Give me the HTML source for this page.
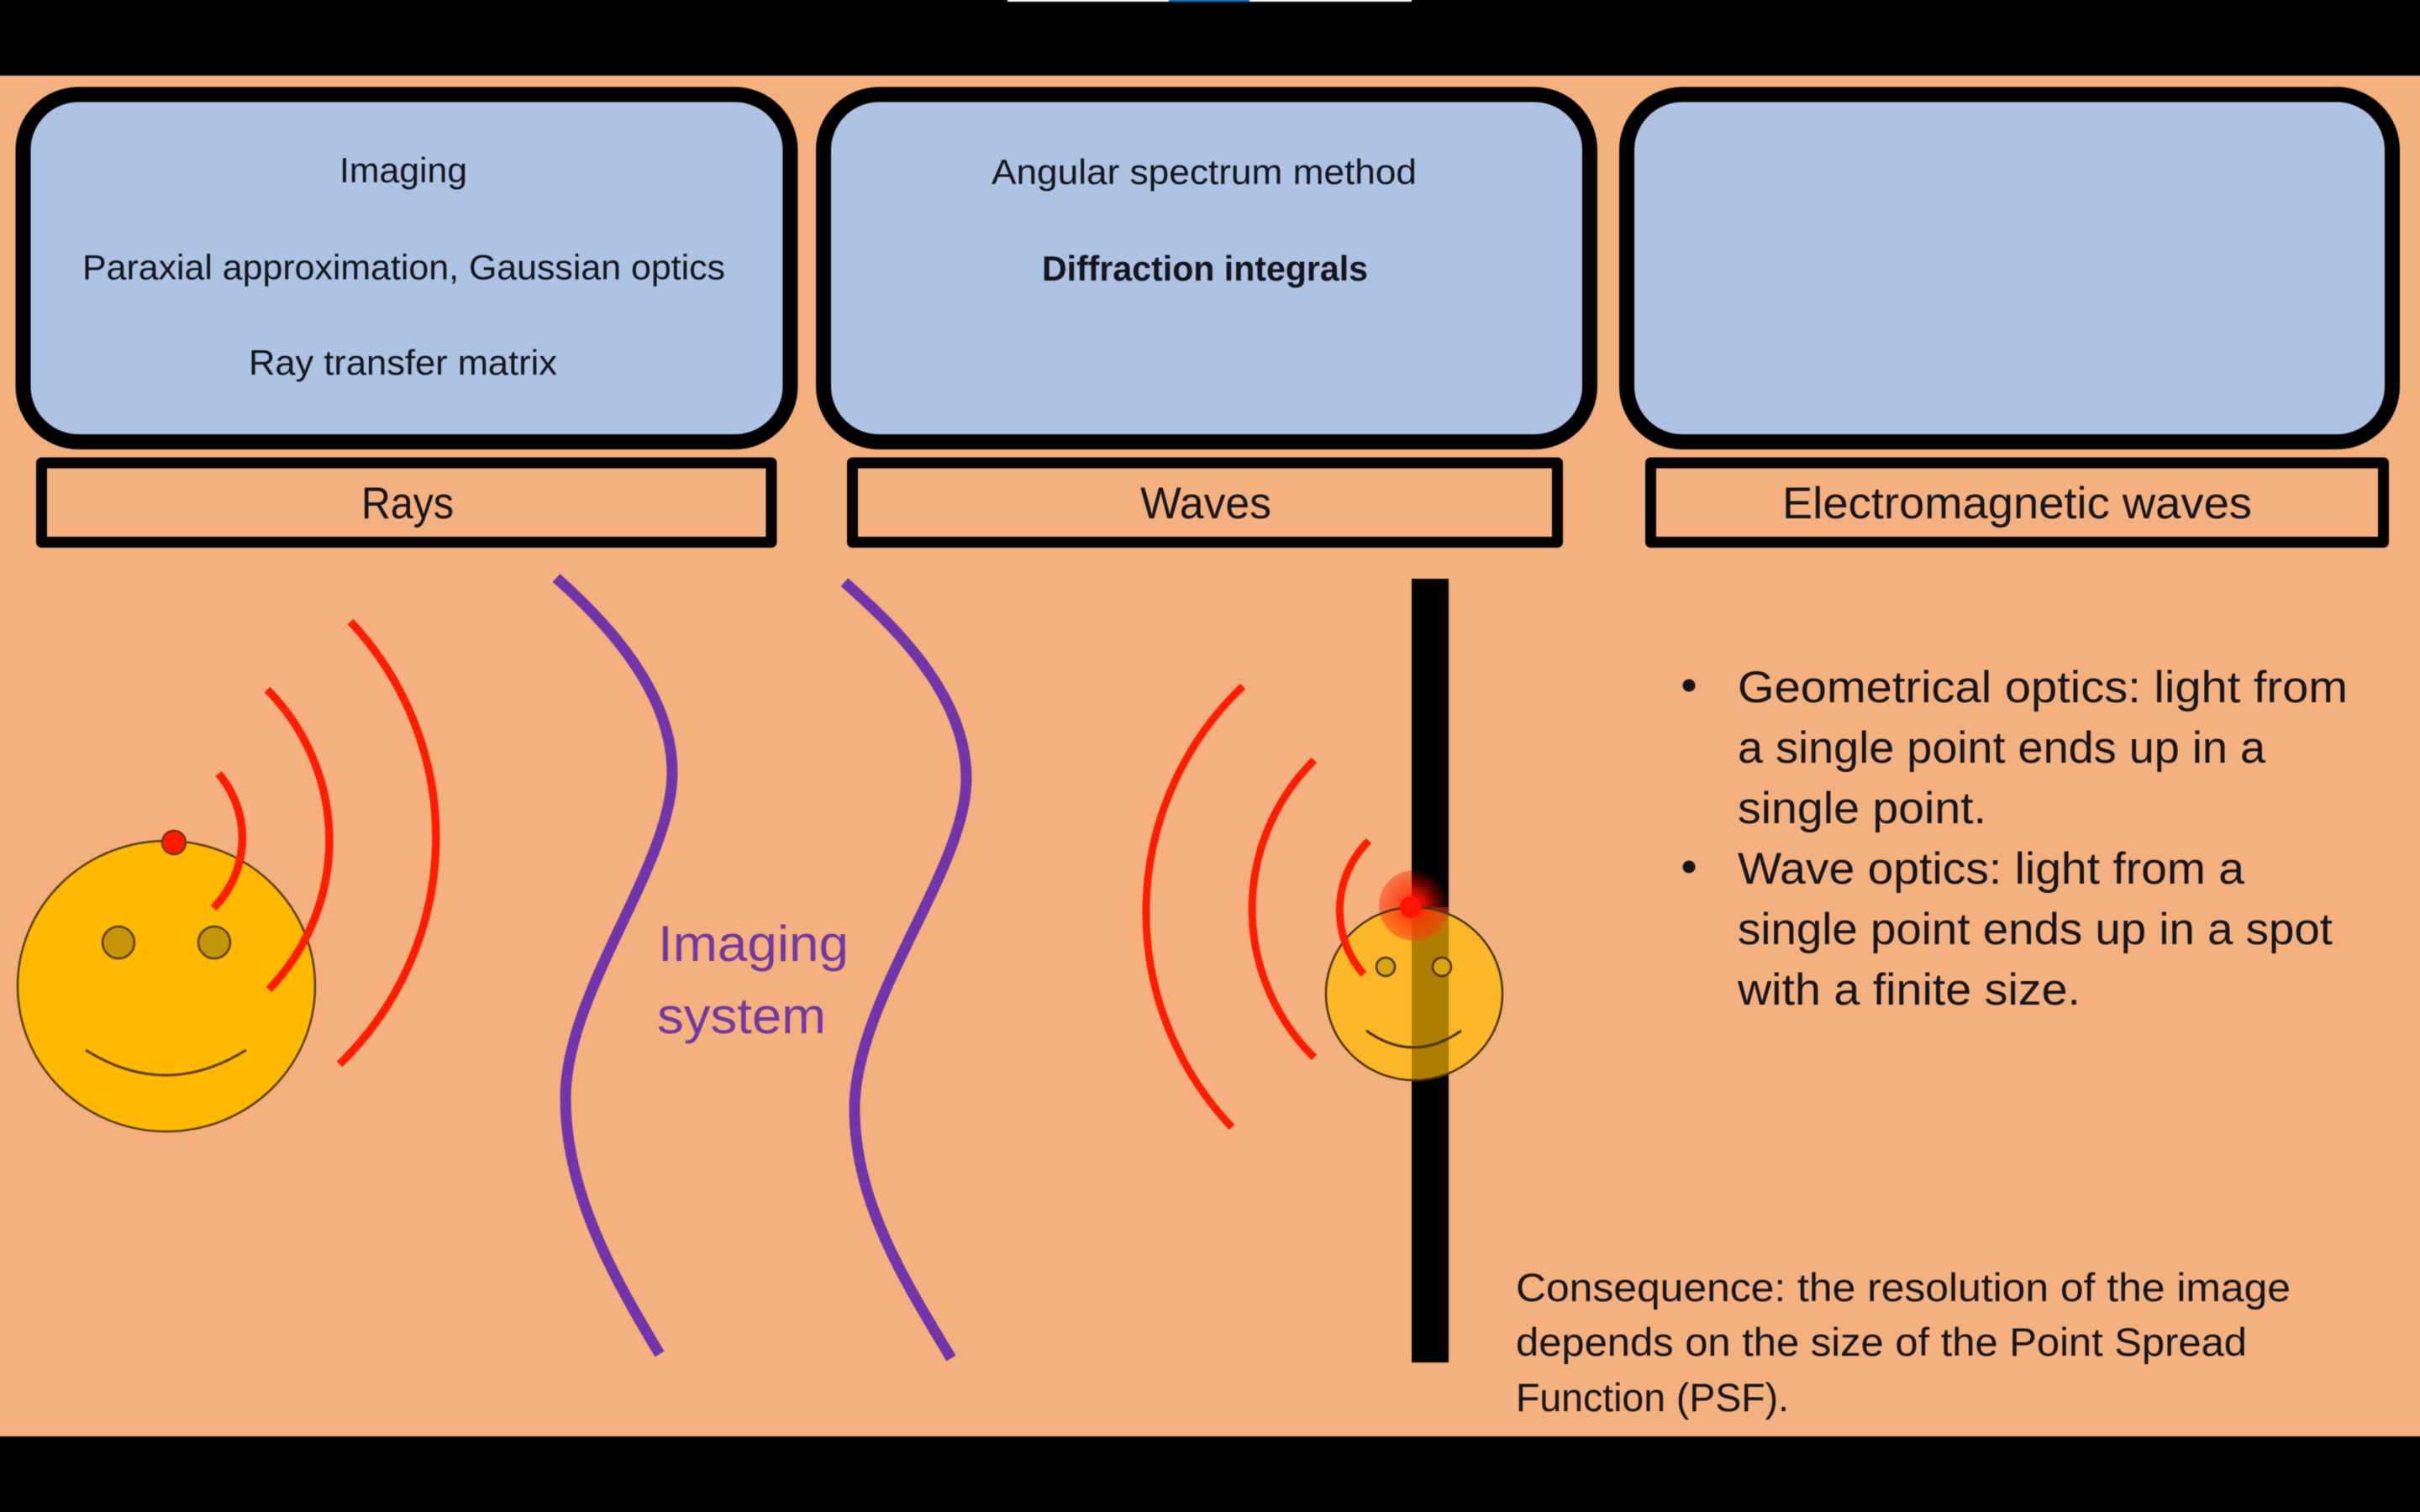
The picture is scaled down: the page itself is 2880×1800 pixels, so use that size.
<!DOCTYPE html>
<html><head><meta charset="utf-8"><title>Rays and waves imaging</title>
<style>html,body{margin:0;padding:0;background:#000}svg{display:block;width:2880px;height:1800px}
text{font-family:"Liberation Sans",sans-serif;fill:#14141c}</style></head>
<body>
<svg xmlns="http://www.w3.org/2000/svg" width="2880" height="1800" viewBox="0 0 2880 1800">
<defs>
<radialGradient id="g1"><stop offset="0" stop-color="#ff1500" stop-opacity=".95"/><stop offset=".35" stop-color="#ff2a00" stop-opacity=".8"/><stop offset="1" stop-color="#ff3c14" stop-opacity=".5"/></radialGradient>
<radialGradient id="g2"><stop offset="0" stop-color="#ff1000"/><stop offset=".35" stop-color="#e01000" stop-opacity=".95"/><stop offset="1" stop-color="#a00000" stop-opacity=".05"/></radialGradient>
<clipPath id="onbar"><rect x="1680" y="600" width="44" height="480"/></clipPath>
<clipPath id="offbar"><rect x="1500" y="980" width="180" height="220"/><rect x="1680" y="1080" width="120" height="120"/></clipPath>
</defs>
<g style="filter:blur(.6px)">
<rect x="-20" y="-20" width="2920" height="1840" fill="#000"/>
<rect x="1199" y="-10" width="481" height="12" fill="#fff"/>
<rect x="1391" y="-10" width="96" height="12" fill="#0a78d8"/>
<rect x="-20" y="90" width="2920" height="1620" fill="#f4b17f"/>

<!-- panels -->
<g fill="#aec3e4" stroke="#000" stroke-width="18">
<rect x="27.5" y="112.5" width="913" height="413.5" rx="66"/>
<rect x="980" y="112.5" width="912" height="413.5" rx="66"/>
<rect x="1936" y="112.5" width="911" height="413.5" rx="66"/>
</g>
<g fill="none" stroke="#000" stroke-width="13" stroke-linejoin="round">
<rect x="49.5" y="551" width="868.5" height="94.5"/>
<rect x="1014.5" y="551" width="839" height="94.5"/>
<rect x="1964.5" y="551" width="872" height="94.5"/>
</g>

<text x="404" y="217" font-size="42" textLength="152" lengthAdjust="spacingAndGlyphs">Imaging</text>
<text x="98" y="332.5" font-size="42" textLength="765" lengthAdjust="spacingAndGlyphs">Paraxial approximation, Gaussian optics</text>
<text x="296" y="446" font-size="42" textLength="367" lengthAdjust="spacingAndGlyphs">Ray transfer matrix</text>
<text x="1180" y="219" font-size="42" textLength="506" lengthAdjust="spacingAndGlyphs">Angular spectrum method</text>
<text x="1240" y="334" font-size="42" font-weight="700" textLength="388" lengthAdjust="spacingAndGlyphs">Diffraction integrals</text>
<text x="430" y="617" font-size="53" textLength="110" lengthAdjust="spacingAndGlyphs">Rays</text>
<text x="1357" y="617" font-size="53" textLength="156" lengthAdjust="spacingAndGlyphs">Waves</text>
<text x="2121" y="617" font-size="53" textLength="559" lengthAdjust="spacingAndGlyphs">Electromagnetic waves</text>

<!-- left face -->
<ellipse cx="198" cy="1174" rx="177" ry="173" fill="#ffb900" stroke="#5a3e10" stroke-width="2.5"/>
<ellipse cx="141" cy="1122" rx="19" ry="19" fill="#c69408" stroke="#5a3e10" stroke-width="2.5"/>
<ellipse cx="255" cy="1122" rx="19" ry="19" fill="#c69408" stroke="#5a3e10" stroke-width="2.5"/>
<path d="M102 1250 Q197 1310 293 1250" fill="none" stroke="#5a3e10" stroke-width="3"/>
<circle cx="207" cy="1003" r="14" fill="#ff1a00" stroke="#7a3010" stroke-width="2.5"/>
<g fill="none" stroke="#ff1f00" stroke-width="9.5">
<path d="M260 921 A118 118 0 0 1 254 1081"/>
<path d="M318 821 A255 255 0 0 1 320 1178"/>
<path d="M417 740 A375 375 0 0 1 404 1267"/>
</g>

<!-- imaging system -->
<g fill="none" stroke="#7035a8" stroke-width="13">
<path d="M662 688 C715 735 800 820 800 920 C800 1030 673 1180 673 1307 C673 1420 730 1520 785 1612"/>
<path d="M1005 693 C1060 742 1150 825 1150 927 C1150 1035 1017 1190 1017 1320 C1017 1430 1076 1524 1132 1617"/>
</g>
<text x="783" y="1144" font-size="60" style="fill:#7238a0" textLength="227" lengthAdjust="spacingAndGlyphs">Imaging</text>
<text x="782" y="1230" font-size="60" style="fill:#7238a0" textLength="201" lengthAdjust="spacingAndGlyphs">system</text>

<!-- right side: bar and face -->
<rect x="1680" y="689" width="44" height="933" fill="#000"/>
<ellipse cx="1683" cy="1183" rx="105" ry="103" fill="#ffb900" fill-opacity=".68"/>
<circle cx="1683" cy="1078" r="42" fill="url(#g1)" clip-path="url(#offbar)"/>
<circle cx="1680" cy="1078" r="44" fill="url(#g2)" clip-path="url(#onbar)"/>
<ellipse cx="1683" cy="1183" rx="105" ry="103" fill="none" stroke="#4a3410" stroke-width="2.5"/>
<ellipse cx="1649" cy="1151" rx="11" ry="11" fill="#dba312" stroke="#4a3410" stroke-width="2.5"/>
<ellipse cx="1716" cy="1151" rx="11" ry="11" fill="#dba312" stroke="#4a3410" stroke-width="2.5"/>
<path d="M1626 1227 Q1682 1267 1739 1227" fill="none" stroke="#4a3410" stroke-width="3"/>
<g fill="none" stroke="#ff1f00" stroke-width="9">
<path d="M1629 1001 A116 116 0 0 0 1623 1160"/>
<path d="M1564 905 A249 249 0 0 0 1564 1259"/>
<path d="M1479 817 A372 372 0 0 0 1466 1342"/>
</g>
<circle cx="1679" cy="1080" r="13" fill="#ff1500"/>

<!-- right text -->
<circle cx="2010" cy="816" r="7.5" fill="#14141c"/>
<circle cx="2010" cy="1032" r="7.5" fill="#14141c"/>
<g font-size="53">
<text x="2068" y="836" textLength="726" lengthAdjust="spacingAndGlyphs">Geometrical optics: light from</text>
<text x="2068" y="908" textLength="628" lengthAdjust="spacingAndGlyphs">a single point ends up in a</text>
<text x="2068" y="980" textLength="296" lengthAdjust="spacingAndGlyphs">single point.</text>
<text x="2068" y="1052" textLength="603" lengthAdjust="spacingAndGlyphs">Wave optics: light from a</text>
<text x="2068" y="1124" textLength="708" lengthAdjust="spacingAndGlyphs">single point ends up in a spot</text>
<text x="2068" y="1196" textLength="408" lengthAdjust="spacingAndGlyphs">with a finite size.</text>
</g>
<g font-size="47">
<text x="1804" y="1549" textLength="922" lengthAdjust="spacingAndGlyphs">Consequence: the resolution of the image</text>
<text x="1804" y="1614" textLength="870" lengthAdjust="spacingAndGlyphs">depends on the size of the Point Spread</text>
<text x="1804" y="1680" textLength="325" lengthAdjust="spacingAndGlyphs">Function (PSF).</text>
</g>
</g>
</svg>
</body></html>
